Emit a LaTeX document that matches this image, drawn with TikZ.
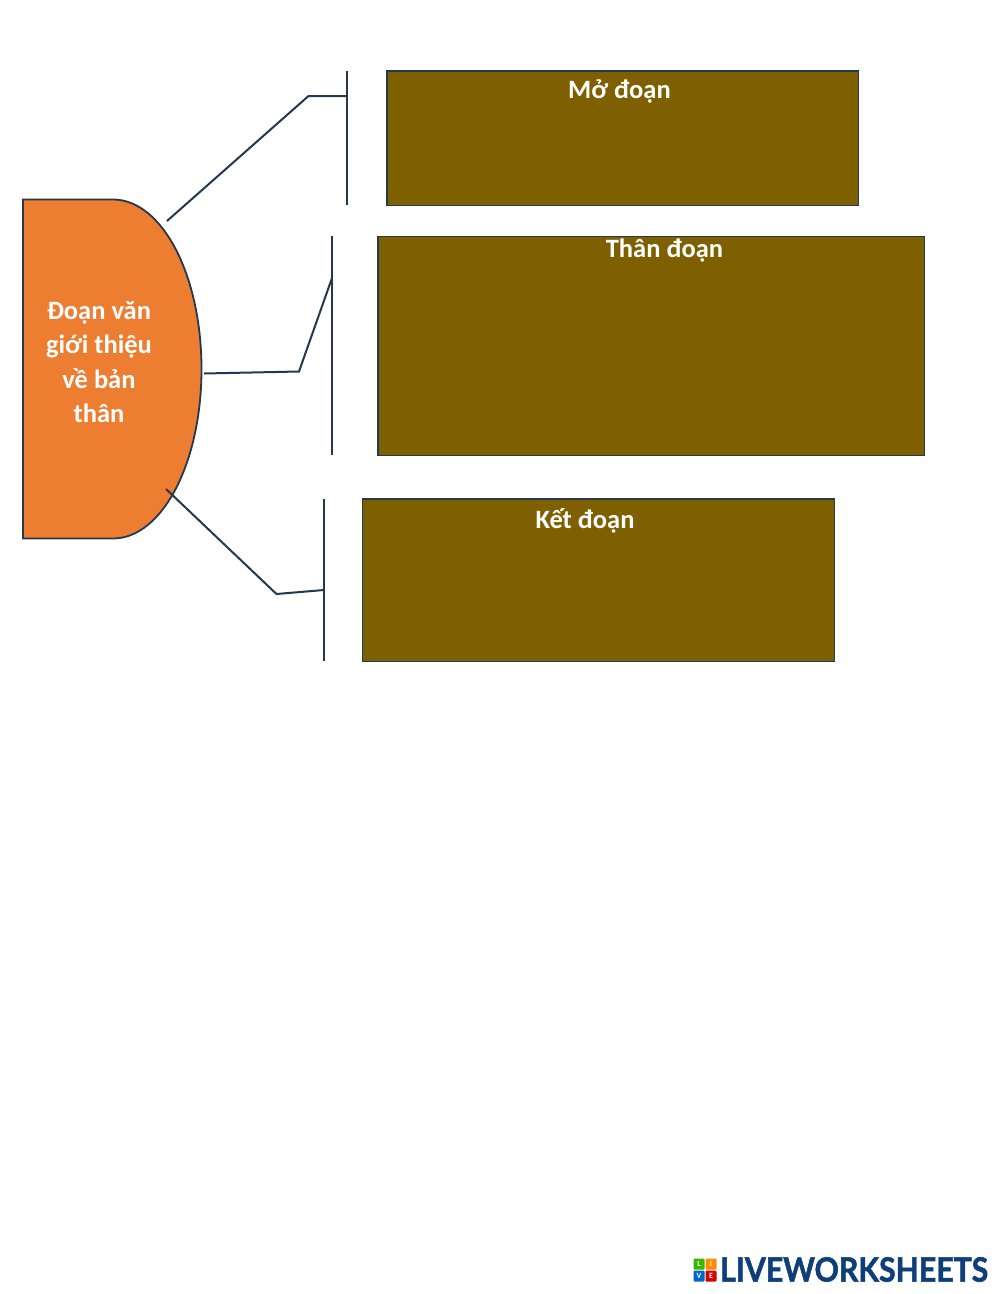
\documentclass[tikz,border=0pt]{standalone}
\usepackage{fontspec}
\setmainfont{Carlito}
\newfontfamily\logofont{Lato}[BoldFeatures={FakeBold=1.6}]
\definecolor{boxbrown}{HTML}{7F6000}
\definecolor{shapeorange}{HTML}{ED7D31}
\definecolor{edgeblue}{HTML}{24384F}
\definecolor{logoblue}{HTML}{0F3F78}
\tikzset{
  x=1pt,y=-1pt,
  panel/.style={draw=edgeblue,line width=1.8pt,fill=boxbrown,anchor=north west,inner sep=0pt},
  title/.style={text=white,font=\fontsize{26.5}{26.5}\selectfont\bfseries,inner sep=0pt},
  wire/.style={draw=edgeblue,line width=2pt,line join=miter},
  tile/.style={rounded corners=1pt,minimum size=11pt,inner sep=0pt,text=white,font=\fontsize{8}{8}\selectfont\bfseries},
}
\begin{document}
\begin{tikzpicture}
\useasboundingbox (0,0) rectangle (1000,1294);
\fill[white] (0,0) rectangle (1000,1294);
% half-round shape
\draw[edgeblue,line width=1.8pt,fill=shapeorange]
  (23,199.5) -- (113,199.5) .. controls (162,199.5) and (201.5,275) .. (201.5,369)
  .. controls (201.5,463) and (162,538.5) .. (113,538.5) -- (23,538.5) -- cycle;
\node[text=white,font=\fontsize{26.5}{34.4}\selectfont\bfseries,align=center,inner sep=0pt] (main) at (99,362)
  {Đoạn văn\\giới thiệu\\về bản\\thân};
% panels
\node[panel,minimum width=471.5pt,minimum height=134.5pt] (p1) at (386,70) {};
\node[panel,minimum width=546.5pt,minimum height=219pt] (p2) at (377,235.5) {};
\node[panel,minimum width=472pt,minimum height=162.5pt] (p3) at (361.5,498) {};
\node[title] (t1) at (619.5,91) {Mở đoạn};
\node[title] (t2) at (664.5,251) {Thân đoạn};
\node[title] (t3) at (585,520.5) {Kết đoạn};
% brackets
\coordinate (b1a) at (347,71);  \coordinate (b1b) at (347,205);
\coordinate (b2a) at (332,236); \coordinate (b2b) at (332,455);
\coordinate (b3a) at (324,499); \coordinate (b3b) at (324,661);
\draw[wire] (b1a) -- (b1b);
\draw[wire] (b2a) -- (b2b);
\draw[wire] (b3a) -- (b3b);
% connectors
\coordinate (s1) at (167,221); \coordinate (k1) at (308.5,96); \coordinate (e1) at (347,96);
\coordinate (s2) at (204,373.5); \coordinate (k2) at (299,371.5); \coordinate (e2) at (332,278);
\coordinate (s3) at (166,489); \coordinate (k3) at (276.5,594); \coordinate (e3) at (324,590);
\draw[wire] (s1) -- (k1) -- (e1);
\draw[wire] (s2) -- (k2) -- (e2);
\draw[wire] (s3) -- (k3) -- (e3);
% logo
\node[tile,fill=green!60!black!70!lime] (l1) at (699,1264) {L};
\node[tile,fill=orange!90!yellow] (l2) at (711,1264) {I};
\node[tile,fill=blue!50!cyan!80!black] (l3) at (699,1276) {V};
\node[tile,fill=red!85!black] (l4) at (711,1276) {E};
\node[anchor=west,inner sep=0pt,text=logoblue,font=\logofont\fontsize{34}{34}\selectfont\bfseries] (logo) at (720,1269.5)
  {\resizebox{268pt}{24.5pt}{LIVEWORKSHEETS}};
\end{tikzpicture}
\end{document}
